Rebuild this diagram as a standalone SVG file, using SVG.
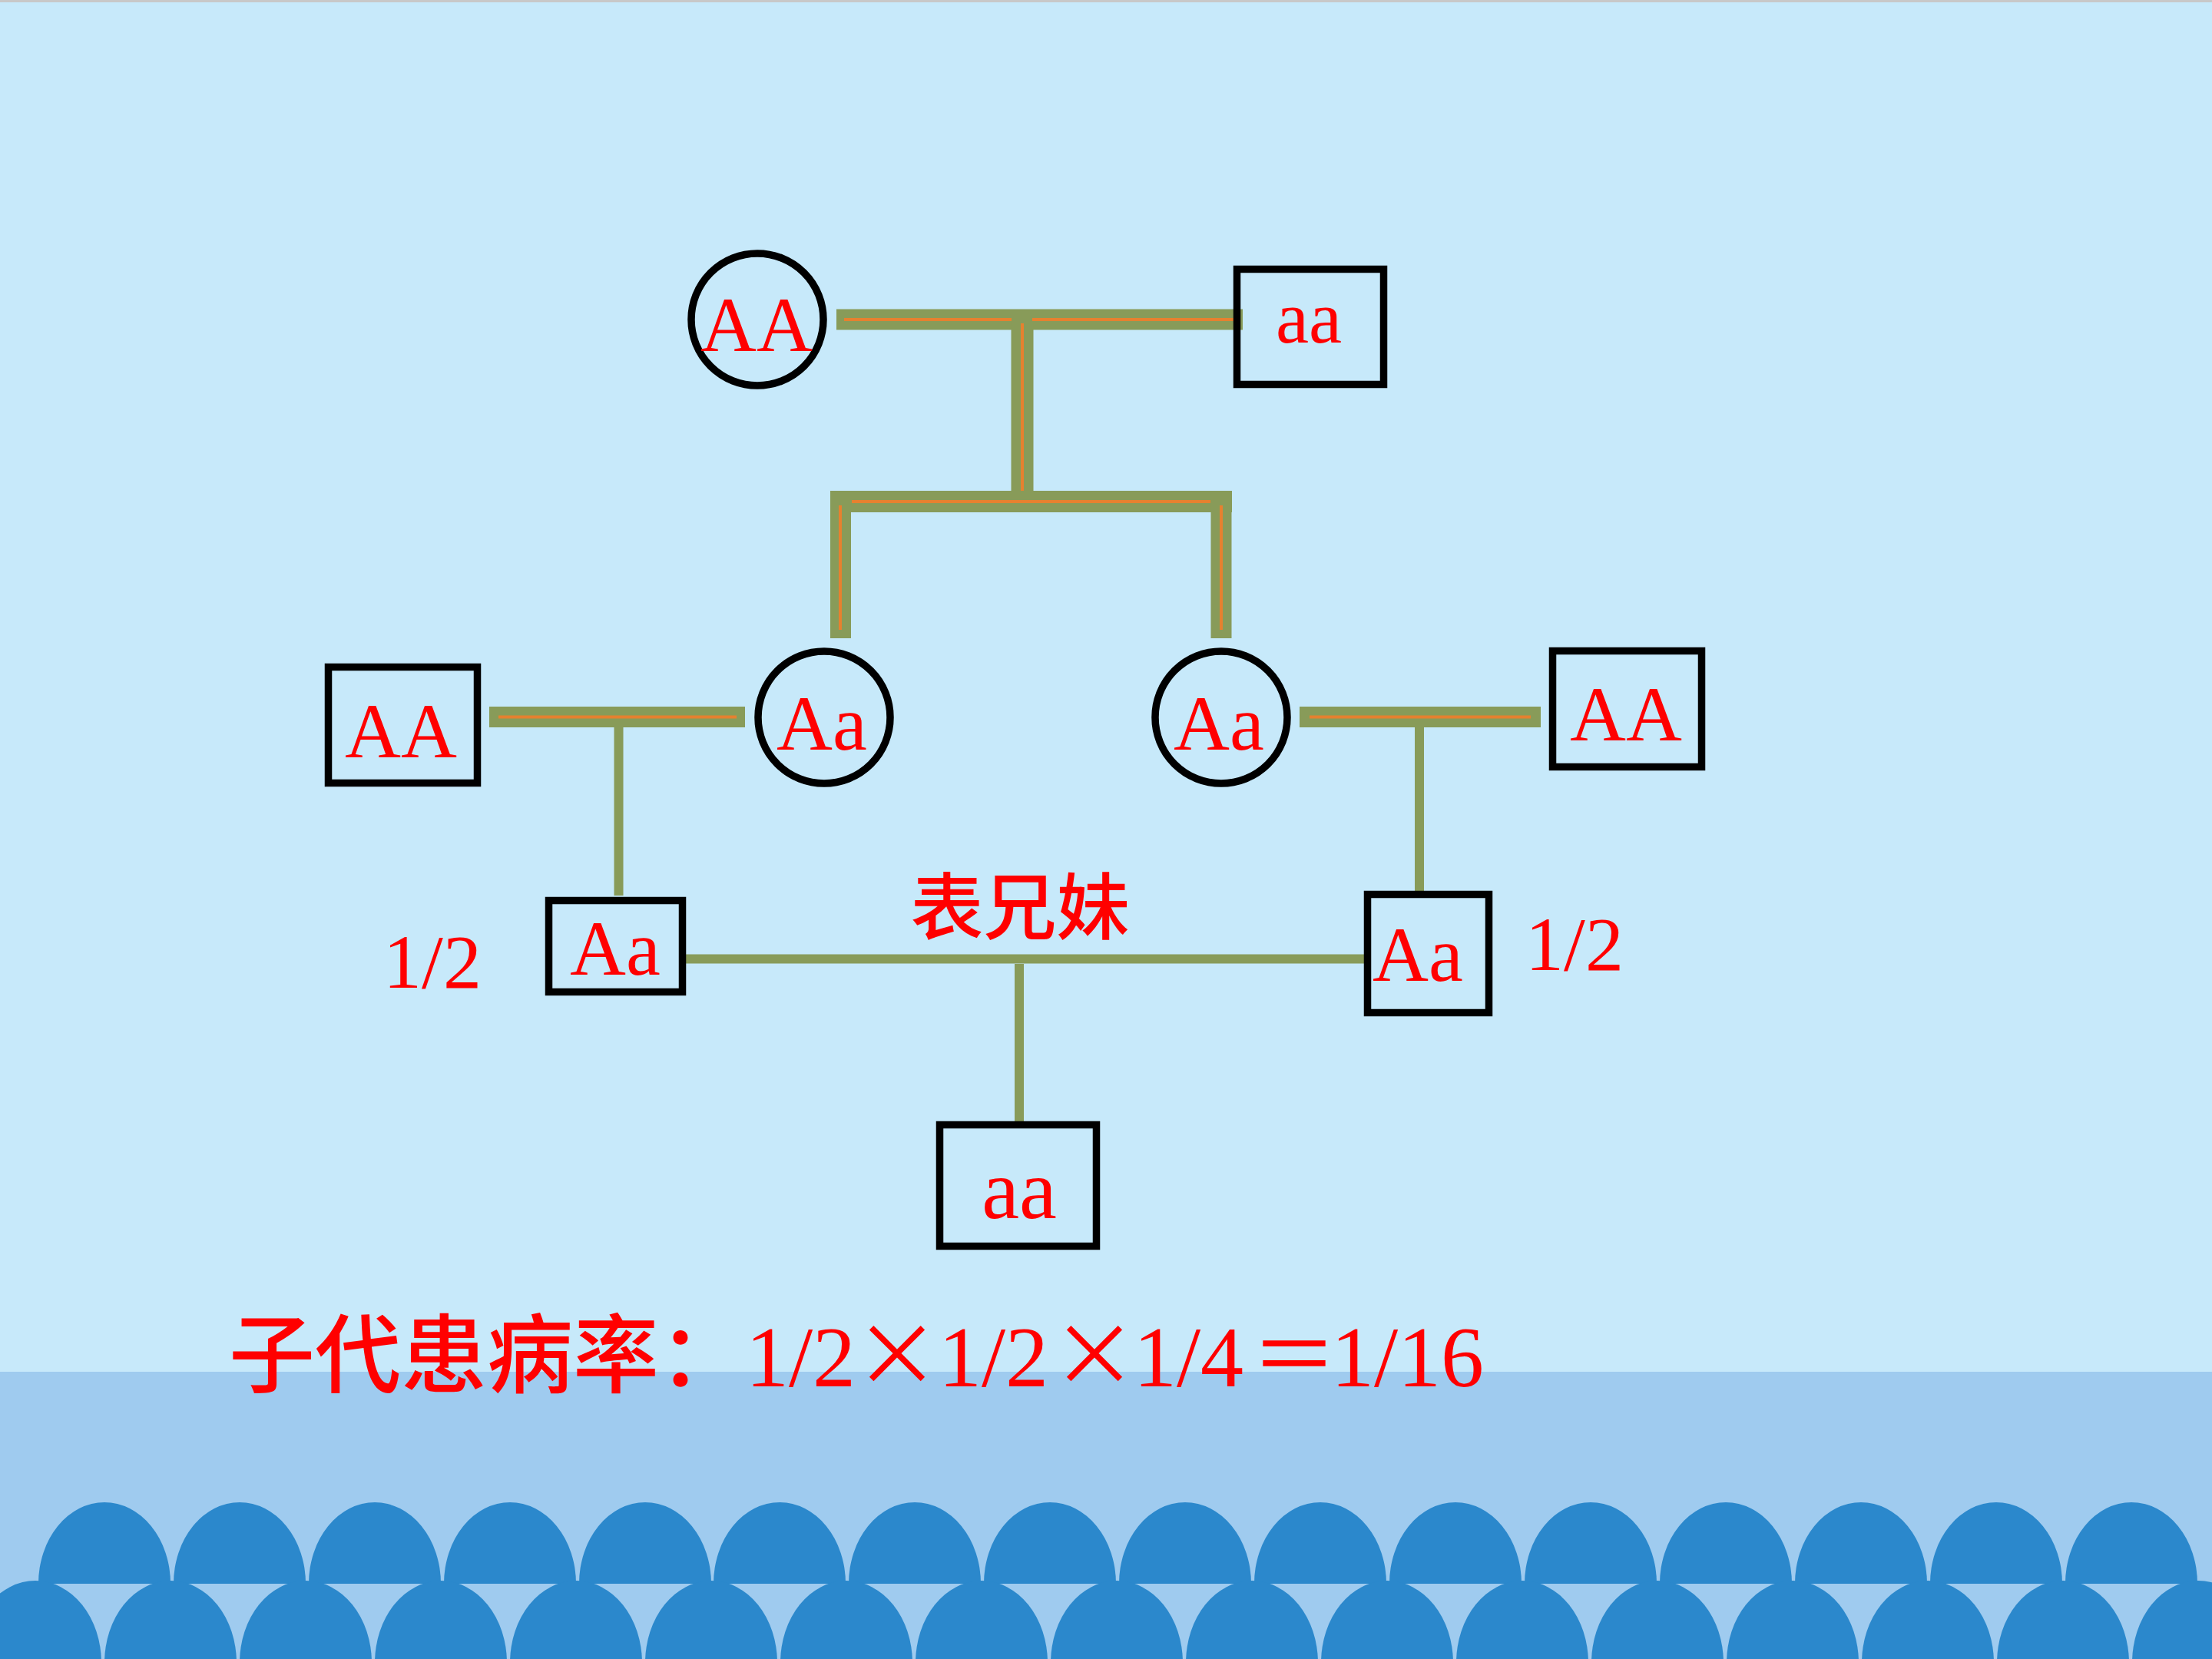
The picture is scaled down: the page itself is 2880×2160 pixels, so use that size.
<svg xmlns="http://www.w3.org/2000/svg" xmlns:xlink="http://www.w3.org/1999/xlink" width="2880" height="2160" viewBox="0 0 2880 2160">
<style>
.node{fill:none;stroke:#000;stroke-width:9.5}
.lbl{font-family:"Liberation Serif","Times New Roman",serif;fill:#ff0000;text-anchor:middle}
.cjk{font-family:"Noto Sans CJK SC",sans-serif;fill:#ff0000;font-weight:500}
.thick{stroke:#889b59;stroke-width:27;fill:none}
.core{stroke:#e6812f;stroke-width:4;fill:none}
.thin{stroke:#889b59;stroke-width:12;fill:none}
.wave{fill:#2b88cc}
</style>
<defs>
<path id="archTop" d="M -86 0 A 86 106 0 0 1 86 0 Z"/>
<path id="archBot" d="M -86 8 L -86 0 A 86 107 0 0 1 86 0 L 86 8 Z"/>
</defs>
<g id="background">
<rect x="0" y="0" width="2880" height="2160" fill="#c7e9fa"/>
<rect x="0" y="0" width="2880" height="3" fill="#c8c8c8"/>
<rect x="0" y="1786" width="2880" height="374" fill="#9fcbef"/>
<g class="wave">
<use xlink:href="#archTop" x="136" y="2062"/><use xlink:href="#archTop" x="312" y="2062"/><use xlink:href="#archTop" x="488" y="2062"/><use xlink:href="#archTop" x="664" y="2062"/>
<use xlink:href="#archTop" x="840" y="2062"/><use xlink:href="#archTop" x="1015" y="2062"/><use xlink:href="#archTop" x="1191" y="2062"/><use xlink:href="#archTop" x="1367" y="2062"/>
<use xlink:href="#archTop" x="1543" y="2062"/><use xlink:href="#archTop" x="1719" y="2062"/><use xlink:href="#archTop" x="1895" y="2062"/><use xlink:href="#archTop" x="2071" y="2062"/>
<use xlink:href="#archTop" x="2247" y="2062"/><use xlink:href="#archTop" x="2423" y="2062"/><use xlink:href="#archTop" x="2599" y="2062"/><use xlink:href="#archTop" x="2775" y="2062"/>
<use xlink:href="#archBot" x="46" y="2165"/><use xlink:href="#archBot" x="222" y="2165"/><use xlink:href="#archBot" x="398" y="2165"/><use xlink:href="#archBot" x="574" y="2165"/>
<use xlink:href="#archBot" x="750" y="2165"/><use xlink:href="#archBot" x="926" y="2165"/><use xlink:href="#archBot" x="1102" y="2165"/><use xlink:href="#archBot" x="1278" y="2165"/>
<use xlink:href="#archBot" x="1454" y="2165"/><use xlink:href="#archBot" x="1630" y="2165"/><use xlink:href="#archBot" x="1806" y="2165"/><use xlink:href="#archBot" x="1982" y="2165"/>
<use xlink:href="#archBot" x="2158" y="2165"/><use xlink:href="#archBot" x="2334" y="2165"/><use xlink:href="#archBot" x="2510" y="2165"/><use xlink:href="#archBot" x="2686" y="2165"/>
<use xlink:href="#archBot" x="2862" y="2165"/>
</g>
</g>
<g id="connectors">
<line class="thick" x1="1089" y1="416" x2="1618" y2="416"/>
<line class="thick" x1="1331" y1="416" x2="1331" y2="653" style="stroke-width:29"/>
<line class="thick" x1="1081" y1="653" x2="1604" y2="653" style="stroke-width:28"/>
<line class="thick" x1="1094.5" y1="653" x2="1094.5" y2="831"/>
<line class="thick" x1="1590" y1="653" x2="1590" y2="831"/>
<line class="thick" x1="637" y1="933.5" x2="970" y2="933.5"/>
<line class="thick" x1="1692" y1="933.5" x2="2006" y2="933.5"/>
<line class="core" x1="1099" y1="416" x2="1317" y2="416"/>
<line class="core" x1="1344" y1="416" x2="1606" y2="416"/>
<line class="core" x1="1331" y1="421" x2="1331" y2="639"/>
<line class="core" x1="1109" y1="653" x2="1576" y2="653"/>
<line class="core" x1="1094" y1="658" x2="1094" y2="820"/>
<line class="core" x1="1590" y1="658" x2="1590" y2="820"/>
<line class="core" x1="649" y1="933.5" x2="959" y2="933.5"/>
<line class="core" x1="1705" y1="933.5" x2="1993" y2="933.5"/>
<line class="thin" x1="805.5" y1="947" x2="805.5" y2="1166"/>
<line class="thin" x1="1848" y1="947" x2="1848" y2="1163"/>
<line class="thin" x1="889" y1="1248.5" x2="1776" y2="1248.5"/>
<line class="thin" x1="1327" y1="1255" x2="1327" y2="1460"/>
</g>
<g id="grandmother"><circle class="node" cx="986" cy="416" r="86"/><text class="lbl" x="985" y="457" font-size="101">AA</text></g>
<g id="grandfather"><rect class="node" x="1610.5" y="350.5" width="191" height="150"/><text class="lbl" x="1704" y="446" font-size="97">aa</text></g>
<g id="left-father"><rect class="node" x="427.5" y="868.5" width="194" height="151"/><text class="lbl" x="522" y="986" font-size="101">AA</text></g>
<g id="left-mother"><circle class="node" cx="1073" cy="934" r="86"/><text class="lbl" x="1070" y="976" font-size="101">Aa</text></g>
<g id="right-mother"><circle class="node" cx="1590" cy="934" r="86"/><text class="lbl" x="1587" y="976" font-size="101">Aa</text></g>
<g id="right-father"><rect class="node" x="2021.5" y="847.5" width="194" height="151"/><text class="lbl" x="2117" y="964" font-size="101">AA</text></g>
<g id="left-cousin"><rect class="node" x="714.5" y="1172.5" width="174" height="119"/><text class="lbl" x="801" y="1269" font-size="101">Aa</text></g>
<g id="right-cousin"><rect class="node" x="1780.5" y="1164.5" width="158" height="154"/><text class="lbl" x="1846" y="1277" font-size="101">Aa</text></g>
<g id="child"><rect class="node" x="1223.5" y="1464.5" width="204" height="158"/><text class="lbl" x="1327" y="1586" font-size="110">aa</text></g>
<g id="labels">
<text class="lbl" x="563" y="1286" font-size="100">1/2</text>
<text class="lbl" x="2050" y="1263" font-size="100">1/2</text>
<text class="cjk" x="1328" y="1216" font-size="95" text-anchor="middle">表兄妹</text>
<text y="1805" font-size="112" fill="#ff0000" font-family="'Liberation Serif','Noto Sans CJK SC',serif"><tspan x="298" font-family="'Noto Sans CJK SC',sans-serif" font-weight="500">子代患病率：</tspan><tspan x="971">1/2</tspan><tspan x="1168" text-anchor="middle" font-family="'Noto Sans CJK SC',sans-serif">×</tspan><tspan x="1222">1/2</tspan><tspan x="1425" text-anchor="middle" font-family="'Noto Sans CJK SC',sans-serif">×</tspan><tspan x="1476">1/4</tspan><tspan x="1685" text-anchor="middle" font-family="'Noto Sans CJK SC',sans-serif">＝</tspan><tspan x="1733">1/16</tspan></text>
</g>
</svg>
